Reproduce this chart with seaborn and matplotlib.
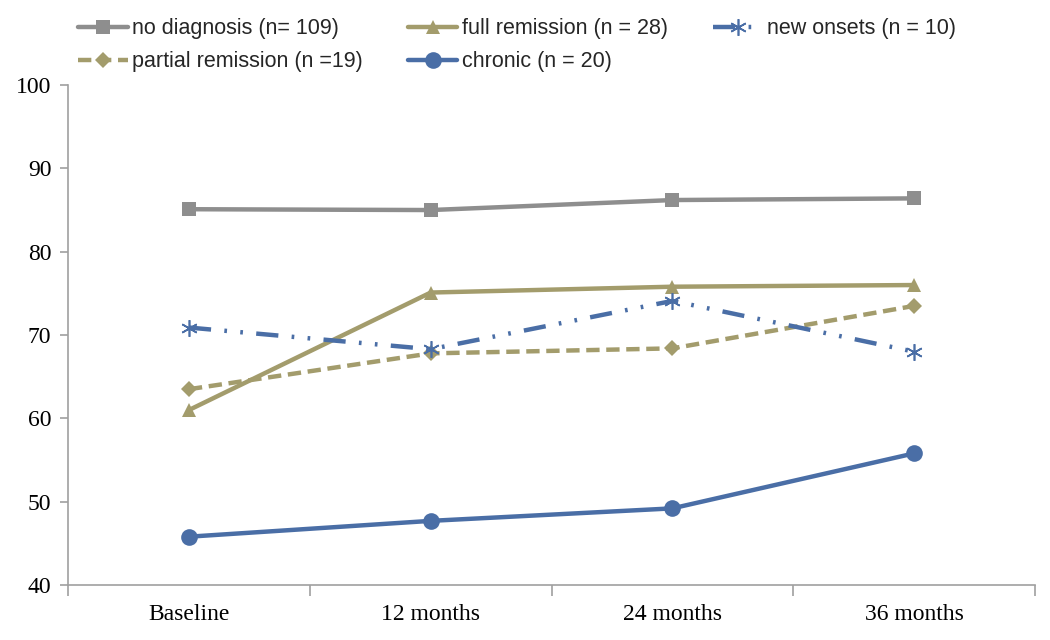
import matplotlib
matplotlib.use("Agg")
import matplotlib.pyplot as plt
import seaborn as sns
import pandas as pd

timepoints = ["Baseline", "12 months", "24 months", "36 months"]
no_diagnosis = [85.1, 85.0, 86.2, 86.4]
full_remission = [61.0, 75.1, 75.8, 76.0]
new_onsets = [70.9, 68.3, 74.1, 68.0]
partial_remission = [63.5, 67.8, 68.4, 73.5]
chronic = [45.8, 47.7, 49.2, 55.8]

labels = {
    "nd": "no diagnosis (n= 109)",
    "fr": "full remission (n = 28)",
    "no": "new onsets (n = 10)",
    "pr": "partial remission (n =19)",
    "ch": "chronic (n = 20)",
}

sns.set_theme(style="white")
plt.rcParams["font.family"] = ["Liberation Serif", "DejaVu Serif"]

GRAY = "#8E8E8E"
OLIVE = "#A39C6C"
BLUE = "#4A6EA6"

fig = plt.figure(figsize=(10.5, 6.4), dpi=100)
ax = fig.add_axes([0.0648, 0.0859, 0.921, 0.7812])

series = [
    ("nd", no_diagnosis, dict(color=GRAY, marker="s", markersize=10, linestyle="-")),
    ("pr", partial_remission, dict(color=OLIVE, marker="D", markersize=8, linestyle=(0, (3, 1.5)))),
    ("fr", full_remission, dict(color=OLIVE, marker="^", markersize=10, linestyle="-")),
    ("ch", chronic, dict(color=BLUE, marker="o", markersize=12, linestyle="-")),
    ("no", new_onsets, dict(color=BLUE, marker=(6, 2, 0), markersize=12, markeredgewidth=1.2,
                            linestyle=(0, (5, 3, 0.6, 3, 0.6, 3)))),
]

for key, vals, st in series:
    df = pd.DataFrame({"t": timepoints, "v": vals})
    sns.lineplot(data=df, x="t", y="v", ax=ax, color=st["color"], linewidth=3.2,
                 linestyle=st["linestyle"], marker=st["marker"], markersize=st["markersize"],
                 markeredgewidth=st.get("markeredgewidth", 0), markeredgecolor=st["color"],
                 label=labels[key], sort=False)

ax.set_xlim(-0.5, 3.5)
ax.set_ylim(40, 100)
ax.set_yticks(range(40, 101, 10))
ax.set_xlabel("")
ax.set_ylabel("")
for s in ["top", "right"]:
    ax.spines[s].set_visible(False)
for s in ["left", "bottom"]:
    ax.spines[s].set_color("#A0A0A0")
    ax.spines[s].set_linewidth(1.2)

ax.set_xticks([0, 1, 2, 3])
ax.set_xticklabels(timepoints)
ax.tick_params(axis="x", which="major", bottom=False, length=0, pad=14, labelsize=17, labelcolor="black")
ax.set_xticks([-0.5, 0.5, 1.5, 2.5, 3.5], minor=True)
ax.tick_params(axis="x", which="minor", bottom=True, length=8, color="#A0A0A0", width=1.2, direction="out")
ax.tick_params(axis="y", left=True, length=6, color="#A0A0A0", width=1.2, direction="out",
               labelsize=17, labelcolor="black", pad=6)

h, l = ax.get_legend_handles_labels()
ax.legend_.remove()
fig.legend(h, l, ncol=3, loc="upper left", bbox_to_anchor=(0.06, 0.995), frameon=False,
           prop={"family": ["Liberation Sans Narrow", "Liberation Sans", "DejaVu Sans"], "size": 15.5},
           handlelength=2.3, handletextpad=0.2, columnspacing=2.1, labelspacing=0.55,
           borderaxespad=0.3)

fig.savefig("out.png", dpi=100)
